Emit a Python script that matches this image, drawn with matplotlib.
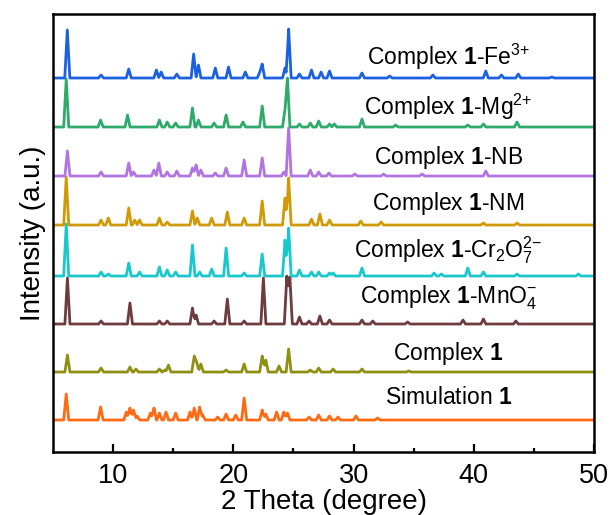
import numpy as np
import matplotlib
matplotlib.use('Agg')
import matplotlib.pyplot as plt

plt.rcParams['font.family'] = 'Liberation Sans'
plt.rcParams['mathtext.fontset'] = 'custom'
plt.rcParams['mathtext.rm'] = 'Liberation Sans'
plt.rcParams['mathtext.it'] = 'Liberation Sans:italic'
plt.rcParams['mathtext.bf'] = 'Liberation Sans:bold'

# peak lists: (2theta, intensity) read per pattern, offsets stack the patterns
fe_peaks = [(6.19, 48), (9.0, 3), (11.3, 9), (13.6, 8), (14.0, 6), (15.3, 4), (16.7, 24), (17.1, 13),
            (18.5, 10), (19.6, 11), (21.0, 6), (22.2, 6), (22.4, 14), (24.3, 10), (24.6, 49), (25.5, 4),
            (26.5, 8), (27.3, 6), (28.0, 7), (30.7, 5), (33.0, 2), (36.6, 3), (41.0, 7), (42.3, 3),
            (43.7, 4), (46.5, 1)]
mg_peaks = [(6.1, 48), (8.96, 7), (11.2, 12), (13.85, 7), (14.5, 5), (15.2, 4), (16.6, 19), (17.1, 7),
            (18.4, 4), (19.4, 12), (20.8, 5), (22.4, 21), (24.3, 18), (24.5, 49), (25.5, 3), (26.4, 4),
            (27.1, 6), (28.0, 3), (28.4, 3), (30.7, 8), (33.5, 2), (39.5, 2), (40.8, 3), (43.6, 5)]
nb_peaks = [(6.2, 25), (9.0, 4), (11.3, 13), (11.7, 4), (13.4, 6), (13.8, 13), (14.5, 4), (15.3, 5),
            (16.6, 8), (16.9, 11), (17.3, 6), (18.5, 3), (19.4, 8), (20.9, 16), (22.4, 18), (24.2, 4),
            (24.6, 48), (26.4, 6), (27.1, 4), (27.95, 3), (30.1, 2), (32.5, 2), (35.7, 2), (41.0, 5)]
nm_peaks = [(6.1, 48), (9.0, 5), (9.6, 7), (11.3, 17), (11.8, 5), (12.2, 5), (13.85, 7), (14.5, 3),
            (16.6, 14), (17.0, 7), (18.2, 7), (19.5, 13), (20.9, 7), (22.4, 24), (24.3, 27), (24.6, 47),
            (26.5, 6), (27.2, 11), (28.0, 5), (30.6, 4), (32.3, 3), (40.8, 2), (43.6, 2)]
cr_peaks = [(6.1, 52), (9.0, 4), (9.6, 2), (11.3, 13), (12.2, 4), (13.85, 9), (14.5, 6), (15.2, 4),
            (16.6, 31), (17.2, 4), (18.2, 7), (19.4, 28), (20.9, 3), (22.4, 22), (24.3, 36), (24.6, 48),
            (25.5, 6), (26.5, 4), (27.1, 4), (28.0, 3), (28.3, 3), (30.7, 8), (36.7, 3), (37.3, 2),
            (39.5, 8), (40.8, 4), (43.6, 2), (48.7, 2)]
mn_peaks = [(6.2, 46), (9.0, 3), (11.4, 21), (13.85, 3), (14.5, 3), (16.6, 16), (16.9, 9), (18.4, 3),
            (19.5, 25), (20.9, 3), (22.5, 46), (24.45, 48), (24.7, 47), (25.5, 7), (26.3, 3), (27.2, 8),
            (28.0, 4), (30.7, 4), (31.6, 3), (34.5, 2), (39.1, 4), (40.8, 5), (43.5, 3)]
c1_peaks = [(6.2, 17), (9.0, 4), (11.4, 5), (11.9, 3), (13.85, 3), (14.3, 2), (14.6, 7), (16.75, 16),
            (16.95, 10), (17.3, 8), (19.4, 2), (20.9, 8), (22.4, 16), (22.7, 12), (23.8, 6), (24.6, 23),
            (26.4, 2), (27.1, 4), (28.3, 3), (30.7, 3), (34.6, 1)]
sim_peaks = [(6.1, 26), (8.96, 13), (11.1, 8), (11.4, 12), (11.7, 10), (12.0, 4), (13.1, 7), (13.4, 12),
             (13.85, 7), (14.4, 8), (15.2, 7), (16.4, 8), (16.75, 12), (17.2, 13), (17.45, 5), (18.7, 3),
             (19.4, 6), (20.2, 5), (20.9, 22), (22.4, 10), (22.7, 6), (23.6, 8), (24.2, 8), (24.5, 7),
             (26.3, 3), (27.1, 5), (28.0, 4), (28.7, 3), (30.2, 4), (32.0, 2)]

patterns = [sim_peaks, c1_peaks, mn_peaks, cr_peaks, nm_peaks, nb_peaks, mg_peaks, fe_peaks]
offsets = [32, 80, 128, 176, 227, 276, 325, 374]
colors = ['#ff6a12', '#8f8f12', '#6e3c3e', '#19c8cc', '#d09a06', '#b274e0', '#2eaa6a', '#1c62e0']
# {+} / {-} keeps mathtext from adding binary-operator spacing
labels = ['Simulation $\\mathbf{1}$', 'Complex $\\mathbf{1}$', 'Complex $\\mathbf{1}$-MnO$_4^{{-}}$',
          'Complex $\\mathbf{1}$-Cr$_2$O$_7^{2{-}}$', 'Complex $\\mathbf{1}$-NM', 'Complex $\\mathbf{1}$-NB',
          'Complex $\\mathbf{1}$-Mg$^{2{+}}$', 'Complex $\\mathbf{1}$-Fe$^{3{+}}$']
label_y = [55, 99, 154, 202, 249, 295, 345, 395]


def stick_pattern(peaks, w=0.21):
    # sharp triangular peaks on a flat baseline, overlapping peaks take the max
    pos = np.array([p for p, h in peaks])
    hts = np.array([h for p, h in peaks])
    xs = np.unique(np.concatenate([[5, 50], pos - w, pos, pos + w]))
    ys = np.zeros_like(xs)
    for p, h in zip(pos, hts):
        ys = np.maximum(ys, np.clip(h * (1 - np.abs(xs - p) / w), 0, None))
    return xs, ys


fig = plt.figure(figsize=(6.12, 5.15), dpi=100)
ax = fig.add_axes([0.0866, 0.1223, 0.884, 0.8505])

for peaks, off, c, lab, ly in zip(patterns, offsets, colors, labels, label_y):
    x, y = stick_pattern(peaks)
    ax.plot(x, y + off, color=c, lw=2.0, solid_joinstyle='round')
    ax.text(37.9, ly, lab, ha='center', va='center', fontsize=16.5)

ax.set_xlim(5, 50)
ax.set_ylim(0, 438)
ax.set_xticks([10, 20, 30, 40, 50])
ax.set_xticks([15, 25, 35, 45], minor=True)
ax.set_yticks([])
ax.tick_params(axis='x', which='major', direction='in', length=6, width=1.6, labelsize=19.5, pad=8)
ax.tick_params(axis='x', which='minor', direction='in', length=3, width=1.6)
for s in ax.spines.values():
    s.set_linewidth(1.8)

ax.set_xlabel('2 Theta (degree)', fontsize=20, labelpad=0)
ax.set_ylabel('Intensity (a.u.)', fontsize=20, labelpad=5)

fig.savefig('out.png', dpi=100)
